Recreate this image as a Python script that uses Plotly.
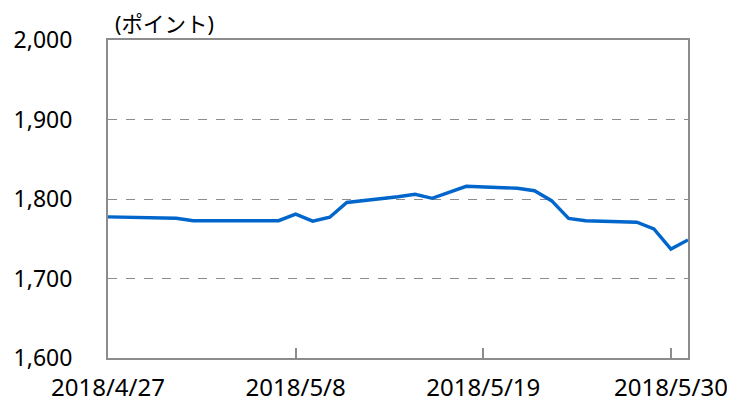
import plotly.graph_objects as go

dates = ["2018-04-27", "2018-05-01", "2018-05-02", "2018-05-07", "2018-05-08",
         "2018-05-09", "2018-05-10", "2018-05-11", "2018-05-14", "2018-05-15",
         "2018-05-16", "2018-05-17", "2018-05-18", "2018-05-21", "2018-05-22",
         "2018-05-23", "2018-05-24", "2018-05-25", "2018-05-28", "2018-05-29",
         "2018-05-30", "2018-05-31"]
values = [1777.5, 1775.8, 1772.6, 1772.7, 1780.9,
          1772.2, 1777.1, 1795.6, 1802.8, 1806.0,
          1800.9, 1808.0, 1816.0, 1813.5, 1810.4,
          1797.9, 1775.7, 1772.7, 1770.7, 1762.3,
          1737.0, 1748.5]
tick_dates = ["2018-04-27", "2018-05-08", "2018-05-19", "2018-05-30"]
tick_labels = ["2018/4/27", "2018/5/8", "2018/5/19", "2018/5/30"]
y_ticks = [1600, 1700, 1800, 1900, 2000]
y_labels = ["1,600", "1,700", "1,800", "1,900", "2,000"]

FONT = "Noto Sans, Noto Sans CJK JP"
GRAY = "#8c8c8c"

fig = go.Figure()
fig.add_trace(go.Scatter(x=dates, y=values, mode="lines",
                         line=dict(color="#0066cc", width=3.4),
                         hoverinfo="skip"))

# page body has an 8px default margin, so the figure is sized/offset for it
fig.update_layout(
    width=727, height=395,
    margin=dict(l=100, r=47, t=32, b=45),
    paper_bgcolor="white", plot_bgcolor="white",
    showlegend=False,
    font=dict(family=FONT, size=22, color="#000000"),
    xaxis=dict(
        type="date", automargin=False,
        range=["2018-04-27", "2018-05-31"],
        tickmode="array", tickvals=tick_dates, ticktext=tick_labels,
        ticks="inside", ticklen=10, tickwidth=2, tickcolor=GRAY,
        showgrid=False, zeroline=False,
        showline=True, linecolor=GRAY, linewidth=2, mirror=True,
        ticklabelstandoff=7,
        tickfont=dict(family=FONT, size=24, color="#000000"),
    ),
    yaxis=dict(
        automargin=False,
        range=[1600, 2000],
        tickmode="array", tickvals=y_ticks, ticktext=y_labels,
        ticks="", showgrid=True, gridcolor=GRAY, griddash="dash", gridwidth=1.3,
        zeroline=False,
        showline=True, linecolor=GRAY, linewidth=2, mirror=True,
        ticklabelstandoff=29,
        tickfont=dict(family=FONT, size=23, color="#000000"),
    ),
    annotations=[dict(
        text="(ポイント)", xref="paper", yref="paper",
        x=0.008, y=1.0, xanchor="left", yanchor="bottom", yshift=0,
        showarrow=False, font=dict(family=FONT, size=21.5, color="#000000"),
    )],
)

fig.write_html("out.html")
